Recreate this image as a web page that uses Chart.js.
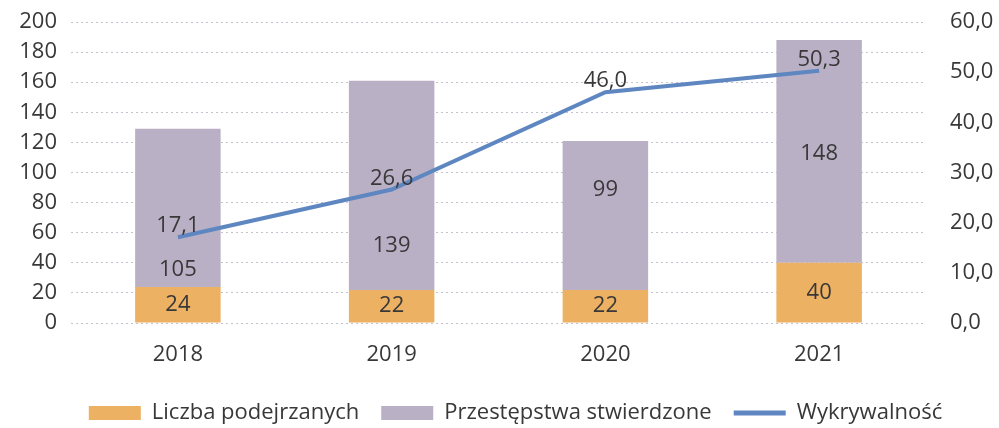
<!DOCTYPE html>
<html><head><meta charset="utf-8">
<script src="https://cdn.jsdelivr.net/npm/chart.js@4"></script>
<style>html,body{margin:0;padding:0;background:#fff}#wrap{width:999px;height:428px}</style>
</head><body><div id="wrap"><canvas id="c"></canvas></div>
<script>
const categories = ['2018', '2019', '2020', '2021'];
const suspects = [24, 22, 22, 40];
const crimes = [105, 139, 99, 148];
const detection = [17.1, 26.6, 46.0, 50.3];
const leftTicks = {min: 0, max: 200, step: 20};
const rightTicks = {min: 0, max: 60, step: 10};
const seriesNames = ['Liczba podejrzanych', 'Przestępstwa stwierdzone', 'Wykrywalność'];

// label placement within the purple segment (fraction from base)
const crimeLabelFrac = [0.11, 0.21, 0.67, 0.49];

const FONT = "'Open Sans', sans-serif";
const TXT = '#383838';
const fmt1 = v => v.toFixed(1).replace('.', ',');

const labelPlugin = {
  id: 'vals',
  afterLayout(chart) {
    if (chart.legend) { chart.legend.left += 16; chart.legend.right += 16; }
  },
  afterDatasetsDraw(chart) {
    const ctx = chart.ctx;
    ctx.save();
    ctx.font = "22px " + FONT;
    ctx.fillStyle = TXT;
    ctx.textAlign = 'center';
    ctx.textBaseline = 'middle';
    chart.getDatasetMeta(0).data.forEach((el, i) => {
      ctx.fillText(String(suspects[i]), el.x, (el.y + el.base) / 2);
    });
    chart.getDatasetMeta(1).data.forEach((el, i) => {
      const y = el.base + (el.y - el.base) * crimeLabelFrac[i];
      ctx.fillText(String(crimes[i]), el.x, y);
    });
    chart.getDatasetMeta(2).data.forEach((el, i) => {
      ctx.fillText(fmt1(detection[i]), el.x, el.y - 11);
    });
    ctx.restore();
  }
};

new Chart(document.getElementById('c'), {
  data: {
    labels: categories,
    datasets: [
      {type: 'bar', label: seriesNames[0], data: suspects, backgroundColor: '#EDB163', yAxisID: 'y', stack: 's', order: 2,
       barPercentage: 0.4, categoryPercentage: 1},
      {type: 'bar', label: seriesNames[1], data: crimes, backgroundColor: '#BAB0C6', yAxisID: 'y', stack: 's', order: 2,
       barPercentage: 0.4, categoryPercentage: 1},
      {type: 'line', label: seriesNames[2], data: detection, borderColor: '#5E87C1', backgroundColor: '#5E87C1',
       borderWidth: 4, pointRadius: 0, yAxisID: 'y1', order: 1, tension: 0}
    ]
  },
  options: {
    responsive: true, maintainAspectRatio: false, animation: false, devicePixelRatio: 1,
    layout: {padding: {top: 22, left: 0, right: 0, bottom: -6}},
    plugins: {
      tooltip: {enabled: false},
      legend: {
        position: 'bottom',
        labels: {
          usePointStyle: true, pointStyleWidth: 52, boxHeight: 14,
          color: TXT, font: {family: FONT, size: 22}, padding: 22,
          generateLabels(chart) {
            const items = Chart.defaults.plugins.legend.labels.generateLabels(chart);
            items.sort((a, b) => a.datasetIndex - b.datasetIndex);
            items.forEach(it => {
              if (it.datasetIndex === 2) { it.pointStyle = 'line'; it.strokeStyle = '#5E87C1'; it.lineWidth = 5; }
              else { it.pointStyle = 'rect'; it.lineWidth = 0; }
            });
            return items;
          }
        }
      }
    },
    scales: {
      x: {
        stacked: true,
        grid: {display: false, drawTicks: false},
        border: {display: false},
        ticks: {color: TXT, font: {family: FONT, size: 22}, padding: 19},
        afterFit(s) { s.height = 57; }
      },
      y: {
        stacked: true, position: 'left', min: leftTicks.min, max: leftTicks.max,
        ticks: {stepSize: leftTicks.step, autoSkip: false, color: TXT, font: {family: FONT, size: 22}, padding: 4},
        grid: {color: 'rgba(170,170,185,0.7)', drawTicks: true, tickLength: 10, tickColor: 'rgba(0,0,0,0)', lineWidth: 1},
        border: {display: false, dash: [2, 3]},
        afterFit(s) { s.width = 71; }
      },
      y1: {
        position: 'right', min: rightTicks.min, max: rightTicks.max,
        ticks: {stepSize: rightTicks.step, autoSkip: false, color: TXT, font: {family: FONT, size: 22}, padding: 4,
                callback: v => fmt1(v)},
        grid: {display: false, drawTicks: true, tickLength: 20},
        border: {display: false},
        afterFit(s) { s.width = 73; }
      }
    }
  },
  plugins: [labelPlugin]
});
</script>
</body></html>
